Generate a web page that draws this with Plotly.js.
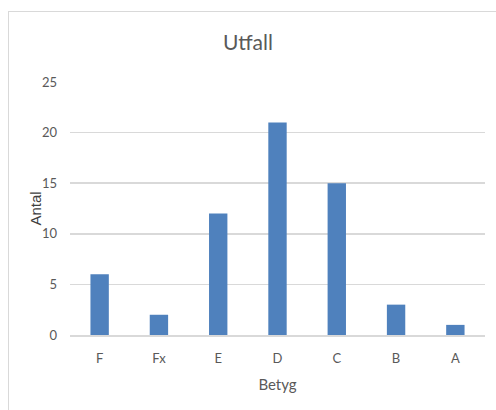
<!DOCTYPE html>
<html>
<head>
<meta charset="utf-8">
<script src="https://cdn.plot.ly/plotly-3.0.1.min.js"></script>
<style>
html,body{margin:0;padding:0;background:#fff;}
#wrap{position:relative;width:496px;height:410px;overflow:hidden;}
#frame{position:absolute;left:8px;top:11px;width:500px;height:410px;border-left:1.5px solid #d9d9d9;border-top:1.5px solid #d9d9d9;box-sizing:border-box;}
#chart{position:absolute;left:0;top:0;width:496px;height:410px;}
</style>
</head>
<body>
<div id="wrap">
<div id="frame"></div>
<div id="chart"></div>
</div>
<script>
const categories = ["F", "Fx", "E", "D", "C", "B", "A"];
const values = [6, 2, 12, 21, 15, 3, 1];
const yTicks = [0, 5, 10, 15, 20, 25];

const font = "Lato, Roboto, sans-serif";

Plotly.newPlot("chart", [{
  type: "bar",
  x: categories,
  y: values,
  marker: {color: "#4f81bd"},
  hoverinfo: "x+y"
}], {
  width: 496,
  height: 410,
  margin: {l: 70, r: 11, t: 82, b: 75},
  paper_bgcolor: "rgba(0,0,0,0)",
  plot_bgcolor: "rgba(0,0,0,0)",
  bargap: 0.69,
  showlegend: false,
  title: {
    text: "Utfall",
    font: {family: font, size: 21, color: "#595959"},
    x: 0.5, xref: "container", xanchor: "center",
    y: 1 - 43/410, yref: "container", yanchor: "middle"
  },
  annotations: [{
    text: "Antal",
    textangle: -90,
    xref: "paper", yref: "paper",
    x: 0, y: 0.5,
    xanchor: "center", yanchor: "middle",
    xshift: -35,
    showarrow: false,
    font: {family: "Liberation Sans, Arial, sans-serif", size: 15, color: "#404040"}
  }],
  xaxis: {
    type: "category",
    range: [-0.5, 6.5],
    showgrid: false,
    showline: true,
    linecolor: "#d9d9d9",
    linewidth: 1.5,
    ticks: "",
    ticklabelstandoff: 11,
    tickfont: {family: font, size: 13, color: "#595959"},
    title: {text: "Betyg", font: {family: font, size: 15, color: "#595959"}, standoff: 14},
    fixedrange: true
  },
  yaxis: {
    range: [0, 25],
    tickvals: yTicks,
    ticktext: yTicks.map(String),
    showgrid: true,
    gridcolor: "#d9d9d9",
    gridwidth: 1.5,
    zeroline: false,
    showline: false,
    ticks: "",
    ticklabelstandoff: 12,
    tickfont: {family: font, size: 13, color: "#595959"},
    fixedrange: true
  }
}, {displayModeBar: false, staticPlot: true});
</script>
</body>
</html>
